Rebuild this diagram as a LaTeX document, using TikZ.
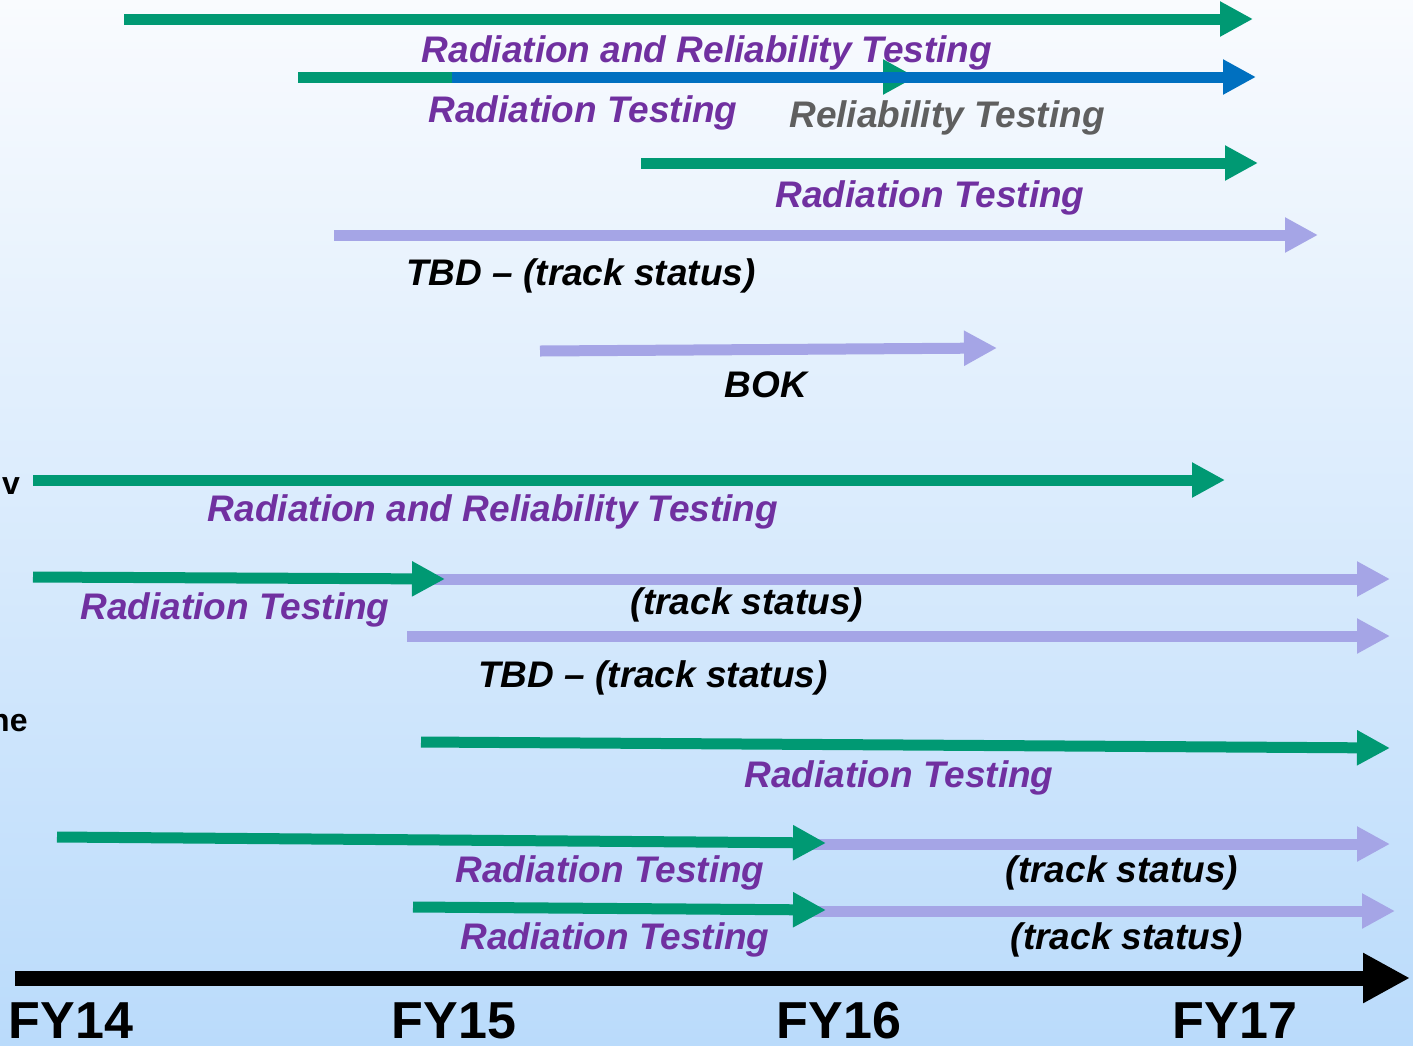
\documentclass[tikz,border=0pt]{standalone}
\usepackage{fontspec}
\setmainfont{Liberation Sans}
\usetikzlibrary{arrows.meta}
\definecolor{bgtop}{HTML}{F9FBFE}
\definecolor{bgbot}{HTML}{BADBFB}
\definecolor{tgreen}{HTML}{009973}
\definecolor{tlav}{HTML}{A5A5E6}
\definecolor{tblue}{HTML}{0070C0}
\definecolor{tpurple}{HTML}{7030A0}
\definecolor{tgray}{HTML}{5F5F5F}
\tikzset{
  bar/.style={line width=11pt,-{Triangle[length=33pt,width=33pt]}},
  greenbar/.style={bar,draw=tgreen},
  lavbar/.style={bar,draw=tlav},
  bluebar/.style={bar,draw=tblue},
  axisbar/.style={line width=15pt,draw=black,-{Triangle[length=47pt,width=47pt]}},
  lbl/.style={anchor=base,inner sep=0pt,font=\fontsize{37}{41}\selectfont\bfseries\itshape},
  plbl/.style={lbl,text=tpurple},
  glbl/.style={lbl,text=tgray},
  klbl/.style={lbl,text=black},
  cutlbl/.style={anchor=base west,inner sep=0pt,font=\fontsize{32}{36}\selectfont\bfseries},
  fylbl/.style={anchor=base,inner sep=0pt,font=\fontsize{52}{56}\selectfont\bfseries},
}
\begin{document}
\begin{tikzpicture}[x=1pt,y=-1pt]
  % background
  \shade[top color=bgtop,bottom color=bgbot] (0,0) rectangle (1413,1045);
  \useasboundingbox (0,0) rectangle (1413,1045);

  % schedule bars
  \coordinate (a1s) at (124,19);   \coordinate (a1e) at (1253,19);
  \coordinate (a2s) at (298,77);   \coordinate (a2e) at (916,77);
  \coordinate (b2s) at (452,77);   \coordinate (b2e) at (1256,77);
  \coordinate (a3s) at (641,163);  \coordinate (a3e) at (1258,163);
  \coordinate (l4s) at (334,235);  \coordinate (l4e) at (1318,235);
  \coordinate (l5s) at (540,351);  \coordinate (l5e) at (997,348);
  \coordinate (a6s) at (33,480);   \coordinate (a6e) at (1225,480);
  \coordinate (l7s) at (425,579);  \coordinate (l7e) at (1390,579);
  \coordinate (a7s) at (33,577);   \coordinate (a7e) at (445,579);
  \coordinate (l8s) at (407,636);  \coordinate (l8e) at (1390,636);
  \coordinate (a9s) at (421,742);  \coordinate (a9e) at (1390,748);
  \coordinate (l10s) at (800,844); \coordinate (l10e) at (1390,844);
  \coordinate (a10s) at (57,837);  \coordinate (a10e) at (826,843);
  \coordinate (l11s) at (800,911); \coordinate (l11e) at (1395,911);
  \coordinate (a11s) at (413,907); \coordinate (a11e) at (826,910);
  \coordinate (xs) at (15,978);    \coordinate (xe) at (1410,978);

  \draw[greenbar] (a1s) -- (a1e);
  \draw[greenbar] (a2s) -- (a2e);
  \draw[bluebar] (b2s) -- (b2e);
  \draw[greenbar] (a3s) -- (a3e);
  \draw[lavbar] (l4s) -- (l4e);
  \draw[lavbar] (l5s) -- (l5e);
  \draw[greenbar] (a6s) -- (a6e);
  \draw[lavbar] (l7s) -- (l7e);
  \draw[greenbar] (a7s) -- (a7e);
  \draw[lavbar] (l8s) -- (l8e);
  \draw[greenbar] (a9s) -- (a9e);
  \draw[lavbar] (l10s) -- (l10e);
  \draw[greenbar] (a10s) -- (a10e);
  \draw[lavbar] (l11s) -- (l11e);
  \draw[greenbar] (a11s) -- (a11e);
  \draw[axisbar] (xs) -- (xe);

  % labels
  \node[plbl] (t1) at (707,62) {Radiation and Reliability Testing};
  \node[plbl] (t2) at (583,122) {Radiation Testing};
  \node[glbl] (t2b) at (947,127) {Reliability Testing};
  \node[plbl] (t3) at (930,207) {Radiation Testing};
  \node[klbl] (t4) at (581,285) {TBD -- (track status)};
  \node[klbl] (t5) at (766,397) {BOK};
  \node[cutlbl] (c6) at (2,494) {v};
  \node[plbl] (t6) at (493,521) {Radiation and Reliability Testing};
  \node[plbl] (t7) at (235,619) {Radiation Testing};
  \node[klbl] (t7b) at (747,614) {(track status)};
  \node[klbl] (t8) at (653,687) {TBD -- (track status)};
  \node[cutlbl] (c9) at (-10,731) {he};
  \node[plbl] (t9) at (899,787) {Radiation Testing};
  \node[plbl] (t10) at (610,882) {Radiation Testing};
  \node[klbl] (t10b) at (1122,882) {(track status)};
  \node[plbl] (t11) at (615,949) {Radiation Testing};
  \node[klbl] (t11b) at (1127,949) {(track status)};

  % fiscal years
  \node[fylbl] (fy14) at (71,1038) {FY14};
  \node[fylbl] (fy15) at (454,1038) {FY15};
  \node[fylbl] (fy16) at (839,1038) {FY16};
  \node[fylbl] (fy17) at (1235,1038) {FY17};
\end{tikzpicture}
\end{document}
